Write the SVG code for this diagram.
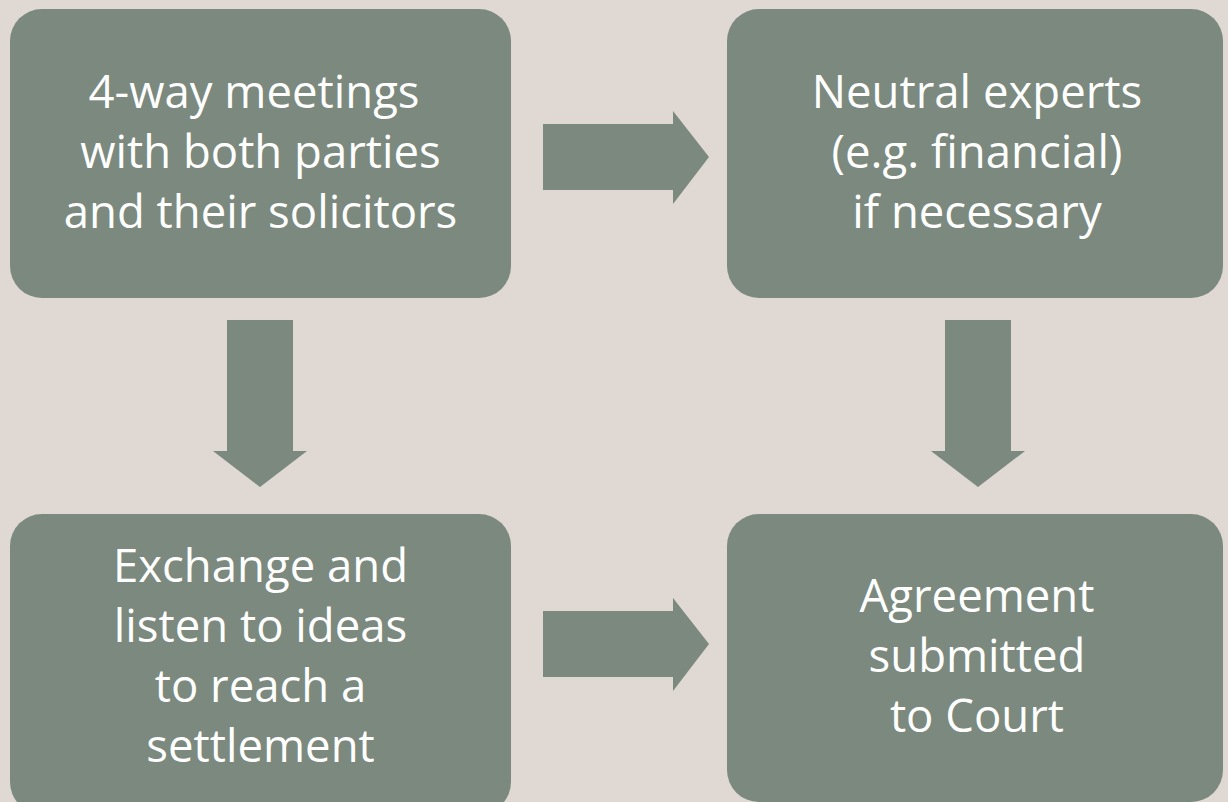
<svg xmlns="http://www.w3.org/2000/svg" width="1228" height="802" viewBox="0 0 1228 802">
  <style>
    .box { fill: #7b897e; }
    .arrow { fill: #7b897e; }
    .label { font-family: "Open Sans", "Noto Sans", "Liberation Sans", sans-serif; font-size: 45.5px; fill: #ffffff; text-anchor: middle; }
  </style>
  <rect x="0" y="0" width="1228" height="802" fill="#dfd8d3"/>

  <g id="node-meetings">
    <rect class="box" x="10" y="9" width="501" height="289" rx="32" ry="32"/>
    <text class="label" x="254" y="108">4-way meetings</text>
    <text class="label" x="260.5" y="168">with both parties</text>
    <text class="label" x="260.5" y="228">and their solicitors</text>
  </g>

  <g id="node-experts">
    <rect class="box" x="727" y="9" width="496" height="289" rx="32" ry="32"/>
    <text class="label" x="977" y="108">Neutral experts</text>
    <text class="label" x="977" y="168">(e.g. financial)</text>
    <text class="label" x="977" y="228">if necessary</text>
  </g>

  <g id="node-exchange">
    <rect class="box" x="10" y="514" width="501" height="300" rx="32" ry="32"/>
    <text class="label" x="260.5" y="582">Exchange and</text>
    <text class="label" x="260.5" y="642">listen to ideas</text>
    <text class="label" x="260.5" y="702">to reach a</text>
    <text class="label" x="260.5" y="762">settlement</text>
  </g>

  <g id="node-agreement">
    <rect class="box" x="727" y="514" width="496" height="288" rx="32" ry="32"/>
    <text class="label" x="977" y="612">Agreement</text>
    <text class="label" x="977" y="672">submitted</text>
    <text class="label" x="977" y="732">to Court</text>
  </g>

  <g id="connectors">
    <!-- top: meetings to experts -->
    <polygon class="arrow" points="543,124 673,124 673,111 709,157 673,204 673,190 543,190"/>
    <!-- left: meetings to exchange -->
    <polygon class="arrow" points="227,320 293,320 293,451 307,451 260,487 213,451 227,451"/>
    <!-- right: experts to agreement -->
    <polygon class="arrow" points="945,320 1011,320 1011,451 1025,451 978,487 931,451 945,451"/>
    <!-- bottom: exchange to agreement -->
    <polygon class="arrow" points="543,611 673,611 673,598 709,644 673,691 673,677 543,677"/>
  </g>
</svg>
